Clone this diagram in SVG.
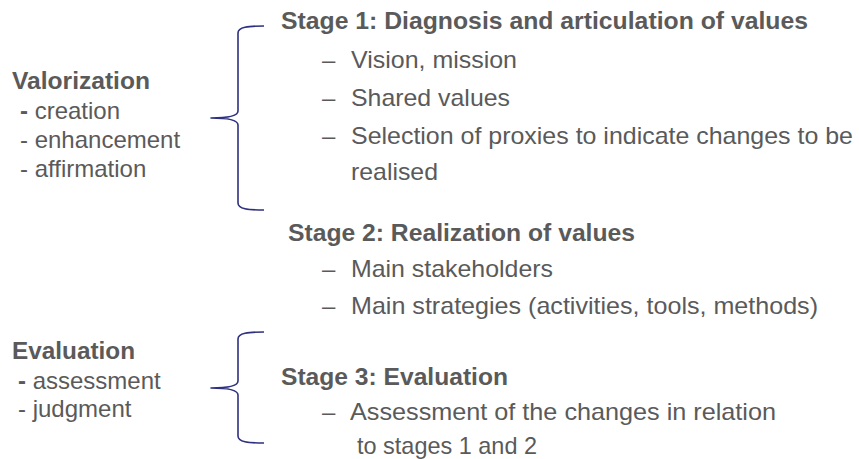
<svg xmlns="http://www.w3.org/2000/svg" width="859" height="459" viewBox="0 0 859 459">
  <style>
    text { font-family: "Liberation Sans", Arial, Helvetica, sans-serif; fill: #5a5a5a; font-size: 24px; }
    .title { font-weight: bold; }
    .b { font-weight: bold; }
    .brace { fill: none; stroke: #2e3080; stroke-width: 1.6; stroke-linejoin: round; }
  </style>
  <rect width="859" height="459" fill="#ffffff"/>

  <!-- left-hand labels -->
  <g id="valorization">
    <text class="title" x="12" y="89" textLength="138" lengthAdjust="spacingAndGlyphs">Valorization</text>
    <text x="20" y="119"><tspan class="b">-</tspan> creation</text>
    <text x="20" y="148">- enhancement</text>
    <text x="20" y="177">- affirmation</text>
  </g>

  <g id="evaluation">
    <text class="title" x="12" y="359" textLength="123" lengthAdjust="spacingAndGlyphs">Evaluation</text>
    <text x="18" y="389"><tspan class="b">-</tspan> assessment</text>
    <text x="18" y="417">- judgment</text>
  </g>

  <!-- curly braces linking labels to stages -->
  <g id="connectors">
    <path class="brace" d="M264,26 C248,26 238,27 238,33 L238,111 C238,116 228,118 211,118 C228,118 238,120 238,125 L238,203 C238,209 248,210 264,210"/>
    <path class="brace" d="M264,332 C248,332 238,333 238,339 L238,381 C238,386 228,388 211,388 C228,388 238,390 238,395 L238,436 C238,442 248,443 264,443"/>
  </g>

  <!-- stage descriptions -->
  <g id="stage1">
    <text class="title" x="281" y="29" textLength="527" lengthAdjust="spacingAndGlyphs">Stage 1: Diagnosis and articulation of values</text>
    <text x="322" y="68">–</text>
    <text x="351" y="68" textLength="166" lengthAdjust="spacingAndGlyphs">Vision,  mission</text>
    <text x="322" y="106">–</text>
    <text x="351" y="106" textLength="159" lengthAdjust="spacingAndGlyphs">Shared values</text>
    <text x="322" y="144">–</text>
    <text x="351" y="144" textLength="502" lengthAdjust="spacingAndGlyphs">Selection of proxies to indicate changes to be</text>
    <text x="351" y="180" textLength="87" lengthAdjust="spacingAndGlyphs">realised</text>
  </g>

  <g id="stage2">
    <text class="title" x="288" y="241" textLength="347" lengthAdjust="spacingAndGlyphs">Stage 2: Realization of values</text>
    <text x="322" y="277">–</text>
    <text x="351" y="277" textLength="202" lengthAdjust="spacingAndGlyphs">Main stakeholders</text>
    <text x="322" y="314">–</text>
    <text x="351" y="314" textLength="467" lengthAdjust="spacingAndGlyphs">Main strategies (activities, tools, methods)</text>
  </g>

  <g id="stage3">
    <text class="title" x="281" y="385" textLength="227" lengthAdjust="spacingAndGlyphs">Stage 3: Evaluation</text>
    <text x="322" y="420">–</text>
    <text x="350" y="420" textLength="426" lengthAdjust="spacingAndGlyphs">Assessment of  the changes in relation</text>
    <text x="357" y="454" textLength="180" lengthAdjust="spacingAndGlyphs">to stages 1 and 2</text>
  </g>
</svg>
